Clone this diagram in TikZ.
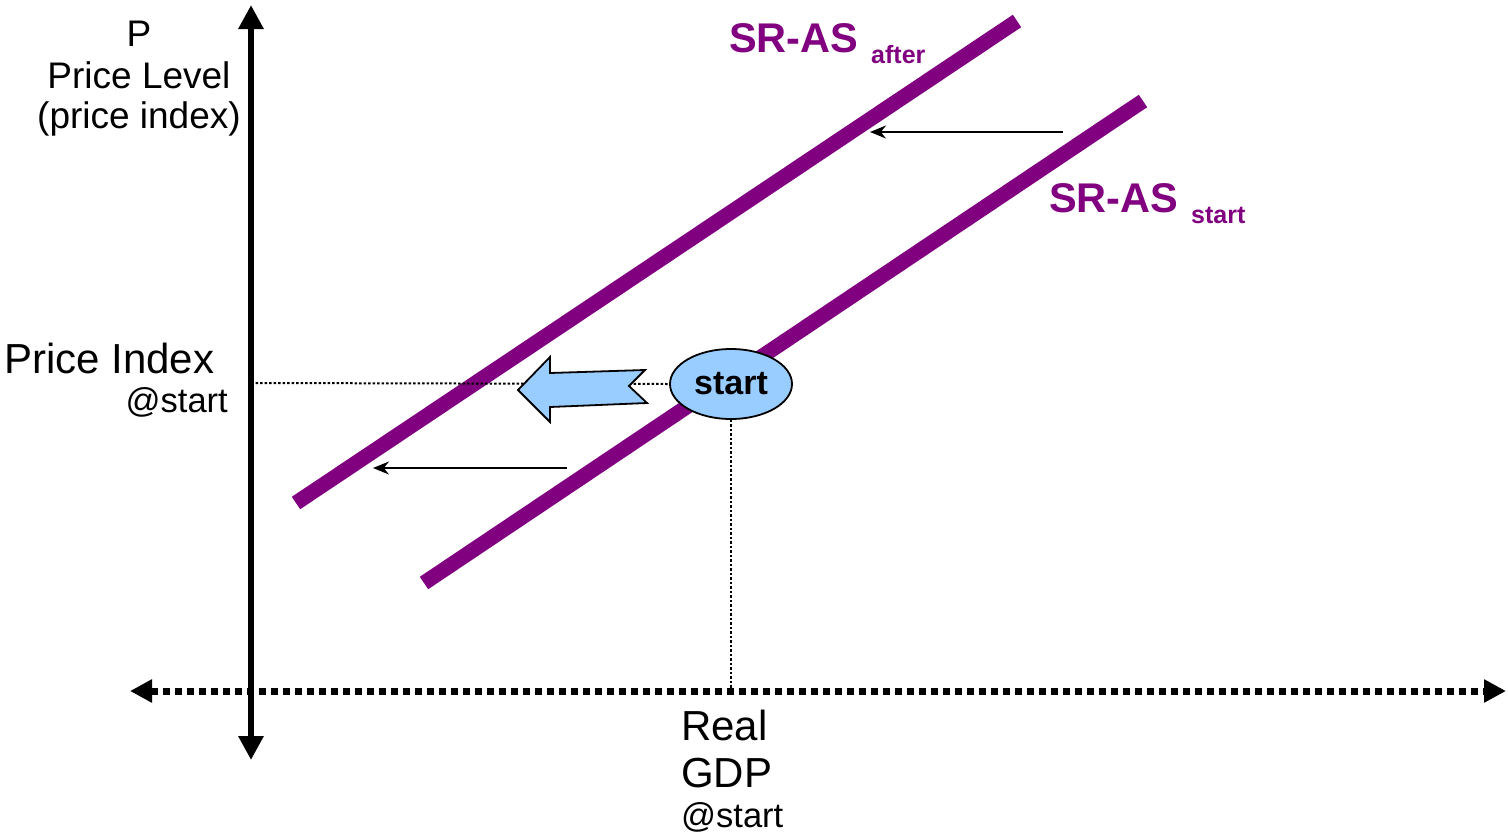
\documentclass[tikz,border=0pt]{standalone}
\usepackage{fontspec}
\setmainfont{Liberation Sans}
\usetikzlibrary{arrows.meta,shapes.geometric}
\definecolor{curve}{HTML}{800080}
\definecolor{startblue}{HTML}{99CCFF}
\begin{document}
\begin{tikzpicture}[x=1pt,y=-1pt,
  supply/.style={draw=curve,line width=15pt},
  guide/.style={line width=2pt,dash pattern=on 2.5pt off 2pt},
  shift arrow/.style={line width=1.8pt,-{Stealth[length=16pt,width=13pt]}},
  lbl/.style={inner sep=0pt,font=\fontsize{37}{40}\selectfont},
  curvelbl/.style={inner sep=0pt,text=curve,font=\fontsize{41.5}{44}\selectfont\bfseries},
  sublbl/.style={inner sep=0pt,text=curve,font=\fontsize{25}{28}\selectfont\bfseries}]
\useasboundingbox (0,0) rectangle (1508,836);

% axes
\coordinate (ytop) at (251,5);
\coordinate (ybot) at (251,760);
\coordinate (xl) at (130,691);
\coordinate (xr) at (1506,691);
\draw[line width=6pt,{Triangle[length=24pt,width=24pt]}-{Triangle[length=24pt,width=24pt]}] (ybot) -- (ytop);
\draw[line width=7pt,dash pattern=on 7pt off 5pt,{Triangle[length=22pt,width=22pt]}-{Triangle[length=22pt,width=22pt]}] (xl) -- (xr);

% supply curves
\coordinate (a1) at (296,503);
\coordinate (a2) at (1017,21);
\coordinate (s1) at (424,583);
\coordinate (s2) at (1143,101);
\draw[supply] (a1) -- (a2);
\draw[supply] (s1) -- (s2);

% starting point
\node[ellipse,draw,line width=1.8pt,fill=startblue,minimum width=122pt,minimum height=70pt,inner sep=0pt,
  font=\fontsize{34}{36}\selectfont\bfseries] (start) at (731,384) {start};
\coordinate (pidx) at (251,383);
\coordinate (gdp) at (731,691);
\draw[guide] (pidx) -- (start.west);
\draw[guide] (start.south) -- (gdp);

% block arrow
\draw[line width=1.8pt,fill=startblue,line join=miter]
  (518,390) -- (550,357) -- (550,373) -- (645,370) -- (629,386) -- (647,403)
  -- (550,407) -- (550,422) -- cycle;

% shift arrows
\coordinate (t1) at (1063,132);
\coordinate (h1) at (870,132);
\coordinate (t2) at (567,468);
\coordinate (h2) at (373,468);
\draw[shift arrow] (t1) -- (h1);
\draw[shift arrow] (t2) -- (h2);

% axis labels
\node[lbl,anchor=base] (p) at (139,46) {P};
\node[lbl,anchor=base] (pl) at (139,88) {Price Level};
\node[lbl,anchor=base] (pi) at (139,128) {(price index)};
\node[inner sep=0pt,anchor=base west,font=\fontsize{42}{44}\selectfont] (pis) at (4,373) {Price Index};
\node[inner sep=0pt,anchor=base east,font=\fontsize{34.5}{36}\selectfont] (pat) at (228,412) {@start};
\node[inner sep=0pt,anchor=base west,font=\fontsize{42}{44}\selectfont] (real) at (681,740) {Real};
\node[inner sep=0pt,anchor=base west,font=\fontsize{42}{44}\selectfont] (gdpl) at (681,787) {GDP};
\node[inner sep=0pt,anchor=base west,font=\fontsize{34.5}{36}\selectfont] (gat) at (681,827) {@start};

% curve labels
\node[curvelbl,anchor=base west] (la) at (729,52) {SR-AS};
\node[sublbl,anchor=base west] (lasub) at (871,63) {after};
\node[curvelbl,anchor=base west] (ls) at (1049,212) {SR-AS};
\node[sublbl,anchor=base west] (lssub) at (1191,223) {start};
\end{tikzpicture}
\end{document}
